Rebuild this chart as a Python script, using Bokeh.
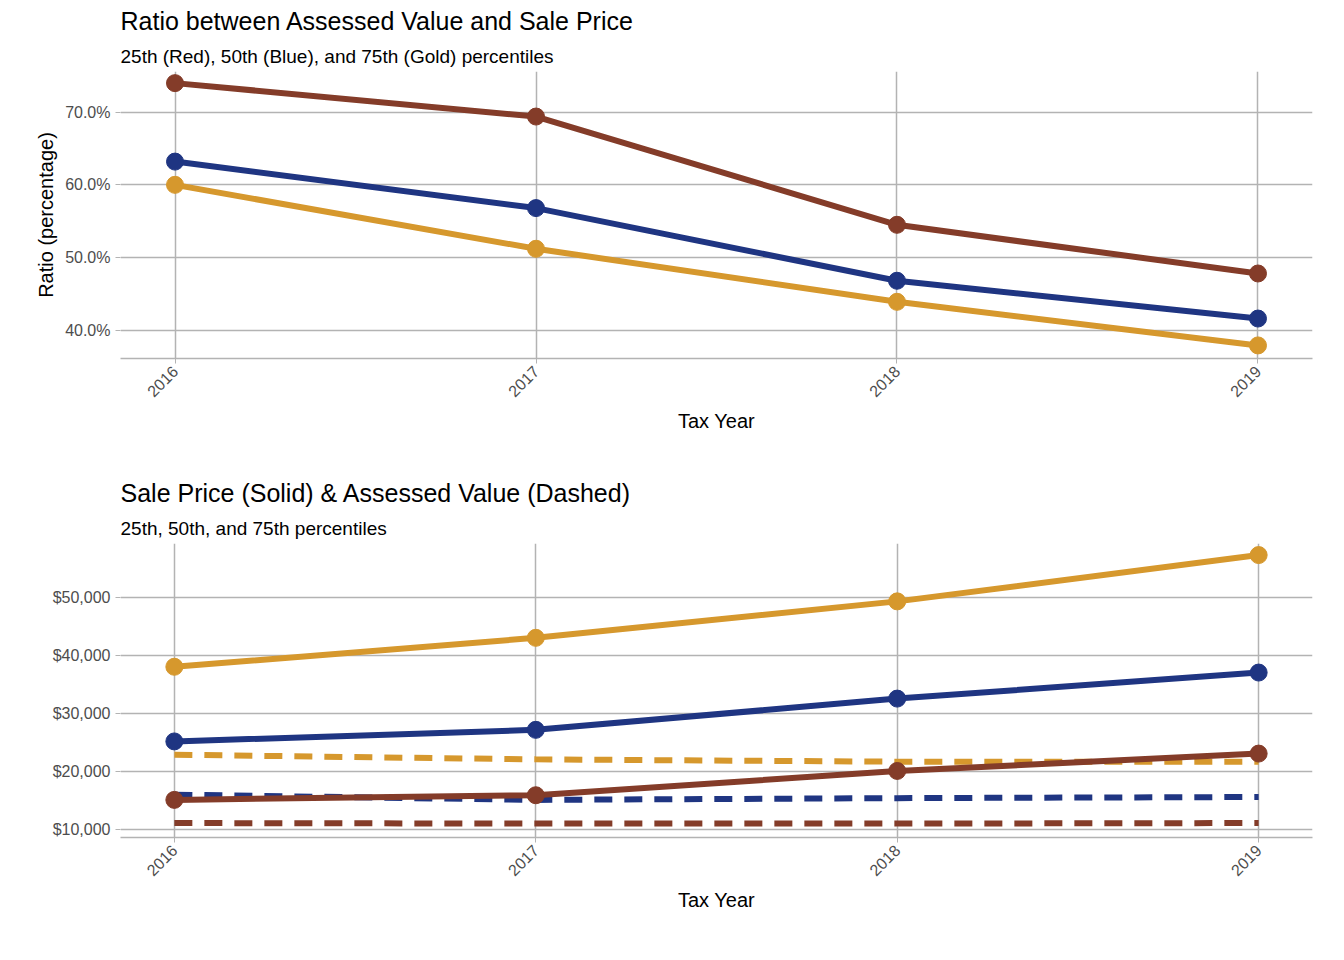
from bokeh.models import ColumnDataSource, FixedTicker, NumeralTickFormatter, Range1d, Title
from bokeh.plotting import figure
from bokeh.layouts import column
from bokeh.embed import file_html
from bokeh.resources import INLINE
import math

years = [2016, 2017, 2018, 2019]
ratio_25 = [0.740, 0.694, 0.545, 0.478]
ratio_50 = [0.632, 0.568, 0.468, 0.416]
ratio_75 = [0.600, 0.512, 0.439, 0.379]

sale_25 = [15100, 15900, 20100, 23100]
sale_50 = [25200, 27200, 32600, 37100]
sale_75 = [38100, 43100, 49400, 57400]
assessed_25 = [11100, 11000, 11000, 11100]
assessed_50 = [16000, 15100, 15400, 15600]
assessed_75 = [22900, 22100, 21700, 21700]

RED = "#843c29"
BLUE = "#1f3582"
GOLD = "#d6982d"
GRID = "#b3b3b3"
FONT = "Liberation Sans"


def style(p, title, subtitle):
    p.title.text = title
    p.title.text_font = FONT
    p.title.text_font_size = "25px"
    p.title.text_font_style = "normal"
    p.title.text_color = "black"
    p.title.standoff = 8
    p.add_layout(Title(text=subtitle, text_font=FONT, text_font_size="19px",
                       text_font_style="normal", text_color="black", standoff=10), "above")
    p.outline_line_color = None
    p.background_fill_color = None
    p.border_fill_color = None
    p.xgrid.grid_line_color = GRID
    p.ygrid.grid_line_color = GRID
    p.xgrid.grid_line_width = 1.5
    p.ygrid.grid_line_width = 1.5
    p.xaxis.ticker = FixedTicker(ticks=years)
    p.xaxis.major_label_orientation = math.pi / 4
    p.xaxis.axis_label = "Tax Year"
    p.xaxis.axis_label_text_font = FONT
    p.xaxis.axis_label_text_font_size = "20px"
    p.xaxis.axis_label_text_font_style = "normal"
    p.xaxis.axis_label_text_color = "black"
    p.xaxis.axis_line_color = GRID
    p.xaxis.axis_line_width = 1.5
    p.yaxis.axis_line_color = None
    for ax in (p.xaxis, p.yaxis):
        ax.major_tick_line_color = GRID
        ax.minor_tick_line_color = None
        ax.major_label_text_font = FONT
        ax.major_label_text_font_size = "16px"
        ax.major_label_text_color = "#4d4d4d"
        ax.major_tick_out = 5
        ax.major_tick_in = 0


p1 = figure(width=1328, height=472, output_backend="svg", toolbar_location=None,
            x_range=Range1d(2015.849, 2019.151), y_range=Range1d(0.361, 0.756),
            min_border_left=120, min_border_right=16, min_border_top=10,
            min_border_bottom=114)
style(p1, "Ratio between Assessed Value and Sale Price",
      "25th (Red), 50th (Blue), and 75th (Gold) percentiles")
p1.yaxis.ticker = FixedTicker(ticks=[0.4, 0.5, 0.6, 0.7])
p1.yaxis.formatter = NumeralTickFormatter(format="0.0%")
p1.yaxis.axis_label = "Ratio (percentage)"
p1.yaxis.axis_label_text_font = FONT
p1.yaxis.axis_label_text_font_size = "20px"
p1.yaxis.axis_label_text_font_style = "normal"
p1.yaxis.axis_label_text_color = "black"
for vals, c in [(ratio_75, GOLD), (ratio_50, BLUE), (ratio_25, RED)]:
    src = ColumnDataSource(dict(x=years, y=vals))
    p1.line("x", "y", source=src, color=c, line_width=6)
    p1.scatter("x", "y", source=src, color=c, size=17)

p2 = figure(width=1328, height=472, output_backend="svg", toolbar_location=None,
            x_range=Range1d(2015.851, 2019.149), y_range=Range1d(8600, 59400),
            min_border_left=104, min_border_right=16, min_border_top=10,
            min_border_bottom=107)
style(p2, "Sale Price (Solid) & Assessed Value (Dashed)",
      "25th, 50th, and 75th percentiles")
p2.yaxis.ticker = FixedTicker(ticks=[10000, 20000, 30000, 40000, 50000])
p2.yaxis.formatter = NumeralTickFormatter(format="$0,0")
for vals, c in [(assessed_75, GOLD), (assessed_50, BLUE), (assessed_25, RED)]:
    p2.line(years, vals, color=c, line_width=6, line_dash="18 12")
for vals, c in [(sale_75, GOLD), (sale_50, BLUE), (sale_25, RED)]:
    src = ColumnDataSource(dict(x=years, y=vals))
    p2.line("x", "y", source=src, color=c, line_width=6)
    p2.scatter("x", "y", source=src, color=c, size=17)

layout = column(p1, p2)
open("out.html", "w").write(file_html(layout, INLINE))
